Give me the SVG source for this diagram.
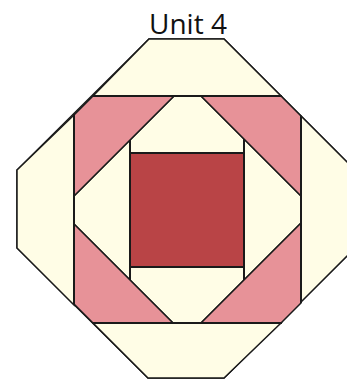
<svg xmlns="http://www.w3.org/2000/svg" width="347" height="379" viewBox="0 0 347 379">
<style>
.c{fill:#FFFDE6;stroke:#1a1a1a;stroke-width:1.5;stroke-linejoin:miter}
.p{fill:#E79298;stroke:#1a1a1a;stroke-width:1.5}
.r{fill:#B94446;stroke:#1a1a1a;stroke-width:2}
.l{stroke:#1a1a1a;stroke-width:2;fill:none}
text{font-family:"Open Sans","Noto Sans",sans-serif;fill:#111}
</style>
<text x="188" y="34" font-size="28" text-anchor="middle">Unit 4</text>
<g id="outer">
<polygon class="c" points="149,39 224,39 355,170 355,248 224,378 148,378 17,248 17,170"/>
</g>
<g id="top-band"><polygon class="c" points="149,39 224,39 281,96 93,96"/></g>
<g id="bottom-band"><polygon class="c" points="93,323 281,323 224,378 148,378"/></g>
<g id="left-strip"><polygon class="c" points="74,115 17,170 17,248 74,305"/></g>
<g id="right-strip"><polygon class="c" points="301,116 355,170 355,248 301,302"/></g>
<g id="inner-cream"><polygon class="c" points="174,96 201,96 301,196 301,223 201,323 173,323 74,224 74,196"/></g>
<g id="pink-tl"><polygon class="p" points="93,96 174,96 74,196 74,115"/></g>
<g id="pink-tr"><polygon class="p" points="201,96 281,96 301,116 301,196"/></g>
<g id="pink-bl"><polygon class="p" points="74,224 173,323 93,323 74,304"/></g>
<g id="pink-br"><polygon class="p" points="301,223 301,303 281,323 201,323"/></g>
<g id="connectors">
<line class="l" x1="74" y1="114" x2="74" y2="305"/>
<line class="l" x1="301" y1="116" x2="301" y2="303"/>
<line class="l" x1="92" y1="96" x2="282" y2="96"/>
<line class="l" x1="92" y1="323" x2="282" y2="323"/>
<line class="l" x1="130" y1="140" x2="130" y2="280"/>
<line class="l" x1="244" y1="139" x2="244" y2="280"/>
</g>
<g id="center"><rect class="r" x="130" y="153" width="114" height="114"/></g>
</svg>
